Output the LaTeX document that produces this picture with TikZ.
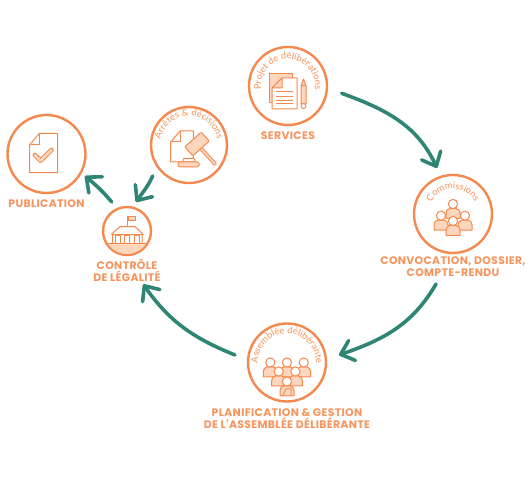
\documentclass[tikz,border=0pt]{standalone}
\usepackage{fontspec}
\usepackage{tikz}
\usetikzlibrary{calc,arrows.meta,decorations.text}
\usepackage{xcolor}
\newfontfamily\labelfont{Poppins}[LetterSpace=3]
\newfontfamily\arcfont{Lato}
\definecolor{myorange}{RGB}{245,136,76}
\definecolor{mylight}{RGB}{253,214,190}
\definecolor{myfaint}{RGB}{246,146,88}
\definecolor{myteal}{RGB}{47,133,115}
\tikzset{
  stepcircle/.style={draw=myorange, circle, line width=2.4pt, fill=white, inner sep=0pt},
  steplabel/.style={text=myorange!90, font=\labelfont\bfseries\fontsize{10.9}{12}\selectfont, align=center},
  flow/.style={draw=myteal, line width=3.6pt, line cap=round, -{Straight Barb[length=12pt,width=21pt,round]}},
  iconline/.style={draw=myorange, line width=1pt, line join=round},
  iconfill/.style={iconline, fill=mylight},
  iconwhite/.style={iconline, fill=white},
  arctext/.style={decorate, decoration={text along path, text align=center, text={|\arcfont\fontsize{9.3}{10}\selectfont\color{myfaint}|#1}}},
  person/.pic={
    \path[iconfill] (-7,-14.5) -- (-7,-9) to[out=90,in=180] (-3,-4.5) -- (3,-4.5) to[out=0,in=90] (7,-9) -- (7,-14.5) -- cycle;
    \path[iconwhite] (0,0) circle (4.6);
  }
}

\begin{document}
\begin{tikzpicture}[x=1pt,y=1pt]
  \useasboundingbox (0,0) rectangle (531,493);

  % Circles
  \node[stepcircle, minimum size=78pt] (services) at (288,407) {};
  \node[stepcircle, minimum size=78pt] (commissions) at (453,279) {};
  \node[stepcircle, minimum size=78pt] (assembly) at (287,130.5) {};
  \node[stepcircle, minimum size=48pt] (control) at (127,262) {};
  \node[stepcircle, minimum size=76pt] (decisions) at (189,348) {};
  \node[stepcircle, minimum size=78pt] (publication) at (46.5,339) {};

  % Labels
  \node[steplabel] (serviceslabel) at (288,357) {SERVICES};
  \node[steplabel] (commissionslabel) at (453,226) {CONVOCATION, DOSSIER,\\COMPTE-RENDU};
  \node[steplabel] (assemblylabel) at (287,74.5) {PLANIFICATION \& GESTION\\DE L'ASSEMBLÉE DÉLIBÉRANTE};
  \node[steplabel] (controllabel) at (127,222.5) {CONTRÔLE\\DE LÉGALITÉ};
  \node[steplabel] (publicationlabel) at (46.5,289) {PUBLICATION};

  % Text on the circles
  \path[arctext={Projet de délibérations}] ($(services)+(230:27)$) arc[start angle=230, end angle=-50, radius=27];
  \path[arctext={Commissions}] ($(commissions)+(230:25)$) arc[start angle=230, end angle=-50, radius=25];
  \path[arctext={Assemblée délibérante}] ($(assembly)+(230:29)$) arc[start angle=230, end angle=-50, radius=29];
  \path[arctext={Arrêtés {\&} décisions}] ($(decisions)+(230:29)$) arc[start angle=230, end angle=-50, radius=29];

  % Arrow ends
  \coordinate (flow1a) at ($(services)+(53.7,-7.3)$);
  \coordinate (flow1b) at ($(commissions)+(-16,46)$);
  \coordinate (flow2a) at ($(commissions)+(-17,-70)$);
  \coordinate (flow2b) at ($(assembly)+(52,7.5)$);
  \coordinate (flow3a) at ($(assembly)+(-52,7.5)$);
  \coordinate (flow3b) at ($(control)+(16.3,-53.3)$);
  \coordinate (flow4a) at ($(control)+(-15.3,29)$);
  \coordinate (flow4b) at ($(publication)+(38.5,-22)$);
  \coordinate (flow5a) at ($(decisions)+(-36.3,-31)$);
  \coordinate (flow5b) at ($(control)+(9,29)$);

  \draw[flow] (flow1a) to[out=-20,in=115] (flow1b);
  \draw[flow] (flow2a) to[out=-120,in=19] (flow2b);
  \draw[flow] (flow3a) to[out=158,in=-55] (flow3b);
  \draw[flow] (flow4a) to[out=130,in=-40] (flow4b);
  \draw[flow] (flow5a) to[out=-115,in=55] (flow5b);

  % Services icon
  \begin{scope}[shift={(services.center)}]
    \draw[iconfill] (-19,12) rectangle (4,-17);
    \draw[iconwhite] (-16,-23) -- (9,-23) -- (9,8) -- (-6,8) -- (-16,-2) -- cycle;
    \draw[iconfill] (-6,8) -- (-6,-2) -- (-16,-2) -- cycle;
    \foreach \y in {-6,-11,-15,-18} \draw[iconline] (-12,\y) -- (5,\y);
    \draw[iconfill] (13,-18) -- (13,0) -- (15.5,7) -- (18,0) -- (18,-18) -- cycle;
    \draw[iconline] (13,0) -- (18,0);
    \draw[iconwhite] (15.5,-20) circle (2.5);
  \end{scope}

  % Publication icon
  \begin{scope}[shift={(publication.center)}]
    \draw[iconwhite] (-17,-18.7) -- (11,-18.7) -- (11,20.7) -- (-7,20.7) -- (-17,9) -- cycle;
    \draw[iconline] (-7,20.7) -- (-7,9) -- (-17,9);
    \draw[draw=myorange, line width=4.6pt, line cap=round, line join=round] (-11.7,-1) -- (-6,-6.7) -- (5,4);
    \draw[draw=mylight, line width=2.6pt, line cap=round, line join=round] (-11.7,-1) -- (-6,-6.7) -- (5,4);
  \end{scope}

  % Decisions icon
  \begin{scope}[shift={(decisions.center)}]
    \draw[iconwhite] (-18.3,-17) -- (4.3,-17) -- (4.3,14) -- (-9,14) -- (-18.3,3) -- cycle;
    \draw[iconline] (-9,14) -- (-9,3) -- (-18.3,3);
    \draw[draw=myorange, line width=3.8pt, line cap=round] (8,1) -- (26,-19);
    \draw[draw=mylight, line width=1.8pt, line cap=round] (8,1) -- (26,-19);
    \draw[iconfill, rounded corners=1pt, rotate around={42:(8,1)}] (-3,-5) rectangle (19,7);
    \draw[iconwhite, rounded corners=1pt] (-6,-13.5) rectangle (6,-17);
    \draw[iconfill, rounded corners=1.5pt] (-11,-17) rectangle (10,-22);
  \end{scope}

  % Control icon
  \begin{scope}[shift={(control.center)}]
    \fill[mylight] (212.8:23) arc[start angle=212.8, end angle=327.2, radius=23] -- cycle;
    \draw[iconline] (0,4.5) -- (0,14.5);
    \draw[iconfill] (1,14) rectangle (8,10);
    \draw[iconline] (-14.5,-13) -- (-14.5,-3.3) -- (-15.5,-3.3) -- (-7,4.3) -- (8,4.3) -- (16.3,-3.3) -- (15,-3.3) -- (15,-13);
    \draw[iconline] (-15.5,-3.3) -- (16.3,-3.3);
    \draw[iconline] (-19.5,-13) -- (20,-13);
    \foreach \x in {-12,-3,7} \draw[iconline] (\x,-13) -- (\x,-5) -- (\x+5.5,-5) -- (\x+5.5,-13);
  \end{scope}

  % Commissions icon
  \begin{scope}[shift={(commissions.center)}]
    \pic at (0,10) {person};
    \pic at (-12,-1.7) {person};
    \pic at (12,-1.7) {person};
    \pic at (0,-7) {person};
  \end{scope}

  % Assembly icon
  \begin{scope}[shift={(assembly.center)}]
    \pic at (-16.7,0) {person};
    \pic at (0,0) {person};
    \pic at (16.7,0) {person};
    \pic at (-8.3,-9) {person};
    \pic at (8.3,-9) {person};
    \pic at (0,-19) {person};
    \draw[iconline] (-4,-33) -- (-1,-26.5) -- (4,-26.5) -- (4,-33);
  \end{scope}
\end{tikzpicture}
\end{document}
